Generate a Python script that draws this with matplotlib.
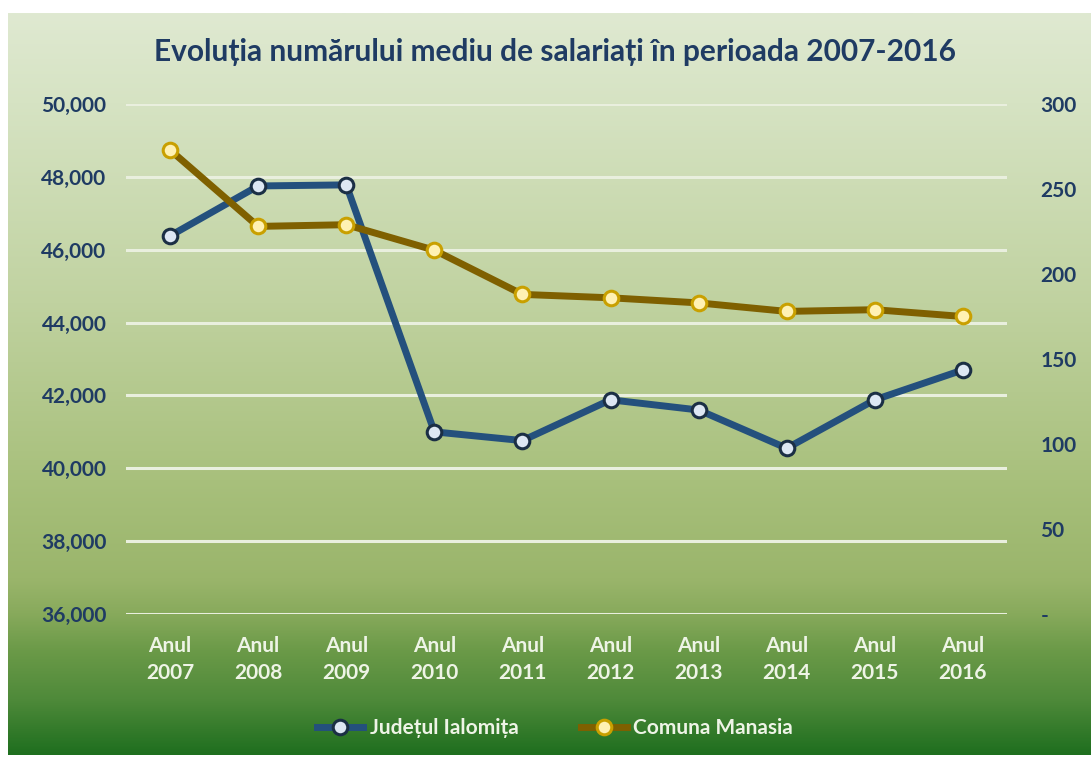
import matplotlib
matplotlib.use("Agg")
import matplotlib.pyplot as plt
import numpy as np
from matplotlib.colors import LinearSegmentedColormap
from matplotlib.ticker import FuncFormatter, FixedLocator
from matplotlib import font_manager

names = {f.name for f in font_manager.fontManager.ttflist}
FONT = "Lato" if "Lato" in names else "DejaVu Sans"
plt.rcParams['font.family'] = [FONT, 'DejaVu Sans']

categories = ["Anul\n2007", "Anul\n2008", "Anul\n2009", "Anul\n2010", "Anul\n2011",
              "Anul\n2012", "Anul\n2013", "Anul\n2014", "Anul\n2015", "Anul\n2016"]
judet = [46380, 47750, 47780, 41000, 40760, 41880, 41600, 40550, 41880, 42700]
comuna = [273, 228, 229, 214, 188, 186, 183, 178, 179, 175]
left_ticks = [36000, 38000, 40000, 42000, 44000, 46000, 48000, 50000]
right_ticks = [0, 50, 100, 150, 200, 250, 300]
title = "Evoluția numărului mediu de salariați în perioada 2007-2016"
series_names = ["Județul Ialomița", "Comuna Manasia"]

W, H = 1091, 758
fig = plt.figure(figsize=(W / 100, H / 100), dpi=100)
fig.patch.set_facecolor("white")

# gradient background panel
bg = fig.add_axes([8 / W, 3 / H, 1 - 8 / W, 1 - 16 / H])
cmap = LinearSegmentedColormap.from_list("g", [
    (0.0, "#1f6f1f"), (0.074, "#4f8a3a"), (0.14, "#6b9a48"), (0.19, "#88aa5c"),
    (0.236, "#9ab56b"), (0.37, "#a8c07c"), (0.61, "#c0d2a0"), (0.88, "#d6e3c3"),
    (1.0, "#dfe9d1")])
grad = np.linspace(0, 1, 256).reshape(-1, 1)
bg.imshow(grad, aspect="auto", cmap=cmap, origin="lower", extent=[0, 1, 0, 1])
bg.set_axis_off()

ax = fig.add_axes([126 / W, 1 - 614 / H, (1007 - 126) / W, (614 - 104) / H])
ax.patch.set_alpha(0)
x = np.arange(len(categories))
ax.set_xlim(-0.5, len(categories) - 0.5)
ax.set_ylim(36000, 50000)
ax.yaxis.set_major_locator(FixedLocator(left_ticks))
ax.yaxis.set_major_formatter(FuncFormatter(lambda v, p: f"{int(v):,}"))
ax.grid(axis="y", color="#e9efde", linewidth=2.2)
ax.set_axisbelow(True)
for s in ax.spines.values():
    s.set_visible(False)
ax.tick_params(axis="both", length=0)
ax.tick_params(axis="y", colors="#1f3b63", labelsize=15, pad=14)
ax.set_xticks(x)
ax.set_xticklabels(categories, fontsize=15, fontweight="bold", color="#eef4e6", linespacing=1.4)
ax.tick_params(axis="x", pad=16)
for t in ax.get_yticklabels():
    t.set_fontweight("bold")

ax2 = ax.twinx()
ax2.set_ylim(0, 300)
ax2.yaxis.set_major_locator(FixedLocator(right_ticks))
ax2.yaxis.set_major_formatter(FuncFormatter(lambda v, p: "-" if v == 0 else f"{int(v)}"))
for s in ax2.spines.values():
    s.set_visible(False)
ax2.tick_params(axis="y", length=0, colors="#1f3b63", labelsize=15, pad=24)
for t in ax2.get_yticklabels():
    t.set_fontweight("bold")

l1, = ax.plot(x, judet, color="#24507d", linewidth=5, marker="o", markersize=10.5,
              markerfacecolor="#dde7f3", markeredgecolor="#1b2f45", markeredgewidth=2.2,
              label=series_names[0], zorder=3)
l2, = ax2.plot(x, comuna, color="#7f6000", linewidth=5, marker="o", markersize=10.5,
               markerfacecolor="#fff1b3", markeredgecolor="#c9a000", markeredgewidth=2.2,
               label=series_names[1], zorder=3)

fig.text(555 / W, 1 - 52 / H, title, ha="center", va="center", fontsize=21.5,
         fontweight="bold", color="#1f3b63")

leg = fig.legend([l1, l2], series_names, loc="center", bbox_to_anchor=(555 / W, 1 - 728 / H),
                 ncol=2, frameon=False, fontsize=15, handlelength=2.2, handletextpad=0.3,
                 columnspacing=3.0)
for t in leg.get_texts():
    t.set_color("#eef4e6")
    t.set_fontweight("bold")

fig.savefig("out.png", dpi=100, facecolor=fig.get_facecolor())
